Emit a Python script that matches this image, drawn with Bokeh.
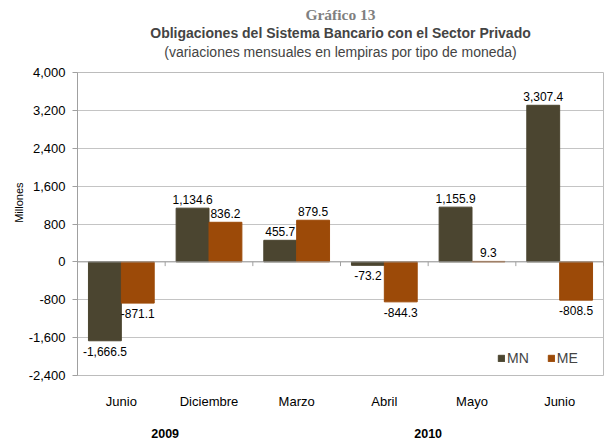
from bokeh.plotting import figure
from bokeh.models import (Range1d, LinearAxis, FixedTicker, NumeralTickFormatter,
                          ColumnDataSource, Title, Span, CDSView, BooleanFilter)
from bokeh.transform import dodge
from bokeh.core.properties import value
from bokeh.embed import file_html
from bokeh.resources import INLINE

# ---- data ----
months = ["Junio", "Diciembre", "Marzo", "Abril", "Mayo", "Junio"]
years = ["2009", "2009", "2010", "2010", "2010", "2010"]
mn = [-1666.5, 1134.6, 455.7, -73.2, 1155.9, 3307.4]
me = [-871.1, 836.2, 879.5, -844.3, 9.3, -808.5]
y_ticks = [-2400, -1600, -800, 0, 800, 1600, 2400, 3200, 4000]

MN_COLOR = "#4b4530"
ME_COLOR = "#9c4a08"
FONT = "Liberation Sans"

n = len(months)
centers = [i + 0.5 for i in range(n)]

p = figure(width=604, height=440, output_backend="svg", toolbar_location=None,
           x_range=Range1d(0, n), y_range=Range1d(y_ticks[0], y_ticks[-1]),
           x_axis_location=None, min_border_left=77, min_border_right=1,
           min_border_top=72, min_border_bottom=63)

p.outline_line_color = "#bcbcbc"
p.xgrid.visible = False
p.ygrid.grid_line_color = "#c4c4c4"
p.ygrid.ticker = FixedTicker(ticks=y_ticks)

# y axis
p.yaxis.ticker = FixedTicker(ticks=y_ticks)
p.yaxis.formatter = NumeralTickFormatter(format="0,0")
p.yaxis.axis_line_color = "#a0a0a0"
p.yaxis.major_tick_line_color = "#a0a0a0"
p.yaxis.major_tick_out = 5
p.yaxis.major_tick_in = 0
p.yaxis.minor_tick_line_color = None
p.yaxis.major_label_standoff = 7
p.yaxis.major_label_text_font = FONT
p.yaxis.major_label_text_font_size = "13px"
p.yaxis.major_label_text_color = "#000000"

# y axis title as a side title, placed a little above the centre like the original
p.add_layout(Title(text="Millones", align="right", offset=110, text_font=FONT,
                   text_font_size="11px", text_font_style="normal", text_color="#000000",
                   standoff=2), "left")

# month labels axis
ax_m = LinearAxis(ticker=FixedTicker(ticks=centers),
                  major_label_overrides={t: m for t, m in zip(centers, months)})
ax_m.axis_line_color = None
ax_m.major_tick_line_color = None
ax_m.minor_tick_line_color = None
ax_m.major_tick_out = 0
ax_m.major_tick_in = 0
ax_m.major_label_standoff = 18
ax_m.major_label_text_font = FONT
ax_m.major_label_text_font_size = "13px"
ax_m.major_label_text_color = "#000000"
p.add_layout(ax_m, "below")

# year labels axis
uniq_years = list(dict.fromkeys(years))
year_ticks = []
for yr in uniq_years:
    idx = [i for i, y in enumerate(years) if y == yr]
    year_ticks.append(sum(centers[i] for i in idx) / len(idx))
ax_y = LinearAxis(ticker=FixedTicker(ticks=year_ticks),
                  major_label_overrides={t: yr for t, yr in zip(year_ticks, uniq_years)})
ax_y.axis_line_color = None
ax_y.major_tick_line_color = None
ax_y.minor_tick_line_color = None
ax_y.major_tick_out = 0
ax_y.major_tick_in = 0
ax_y.major_label_standoff = 17
ax_y.major_label_text_font = FONT
ax_y.major_label_text_font_size = "12.5px"
ax_y.major_label_text_font_style = "bold"
ax_y.major_label_text_color = "#000000"
p.add_layout(ax_y, "below")

# zero line and category tick marks
p.add_layout(Span(location=0, dimension="width", line_color="#a0a0a0", line_width=1))
tick_len = (y_ticks[-1] - y_ticks[0]) * 0.014
bounds = list(range(n + 1))
p.segment(x0=bounds, y0=[0] * (n + 1), x1=bounds, y1=[-tick_len] * (n + 1),
          line_color="#a0a0a0", line_width=1)

# bars
src = ColumnDataSource(dict(x=centers, mn=mn, me=me,
                            mn_lab=[f"{v:,.1f}" for v in mn],
                            me_lab=[f"{v:,.1f}" for v in me]))
w = 0.375
p.vbar(x=dodge("x", -w / 2), top="mn", bottom=0, width=w, source=src,
       fill_color=MN_COLOR, line_color=MN_COLOR, legend_label="MN")
p.vbar(x=dodge("x", w / 2), top="me", bottom=0, width=w, source=src,
       fill_color=ME_COLOR, line_color=ME_COLOR, legend_label="ME")

# data labels
for col, lab, off in (("mn", "mn_lab", -w / 2), ("me", "me_lab", w / 2)):
    vals = src.data[col]
    pos_view = CDSView(filter=BooleanFilter([v >= 0 for v in vals]))
    neg_view = CDSView(filter=BooleanFilter([v < 0 for v in vals]))
    p.text(x=dodge("x", off), y=col, text=lab, source=src, view=pos_view,
           text_font=value(FONT), text_font_size="12px", text_align="center",
           text_baseline="bottom", y_offset=-4, text_color="#000000")
    p.text(x=dodge("x", off), y=col, text=lab, source=src, view=neg_view,
           text_font=value(FONT), text_font_size="12px", text_align="center",
           text_baseline="top", y_offset=6, text_color="#000000")

# legend
lg = p.legend[0]
lg.orientation = "horizontal"
lg.location = (420, 9)
lg.border_line_color = None
lg.background_fill_alpha = 0
lg.padding = 0
lg.margin = 0
lg.spacing = 18
lg.glyph_width = 8
lg.glyph_height = 8
lg.label_standoff = 2
lg.label_height = 14
lg.label_text_font = FONT
lg.label_text_font_size = "14px"
lg.label_text_baseline = "middle"

# titles (first added is nearest to the plot); t0 is an empty spacer
t0 = Title(text=" ", text_font_size="1px", standoff=9)
t3 = Title(text="(variaciones mensuales en lempiras por tipo de moneda)", align="center",
           text_font=FONT, text_font_size="14px", text_font_style="normal", standoff=1)
t2 = Title(text="Obligaciones del Sistema Bancario con el Sector Privado", align="center",
           text_font=FONT, text_font_size="14px", text_font_style="bold", standoff=1)
t1 = Title(text="Gráfico 13", align="center", text_font="Liberation Serif",
           text_font_size="15.5px", text_font_style="bold", text_color="#808080", standoff=0)
p.add_layout(t0, "above")
p.add_layout(t3, "above")
p.add_layout(t2, "above")
p.add_layout(t1, "above")

open("out.html", "w").write(file_html(p, INLINE))
